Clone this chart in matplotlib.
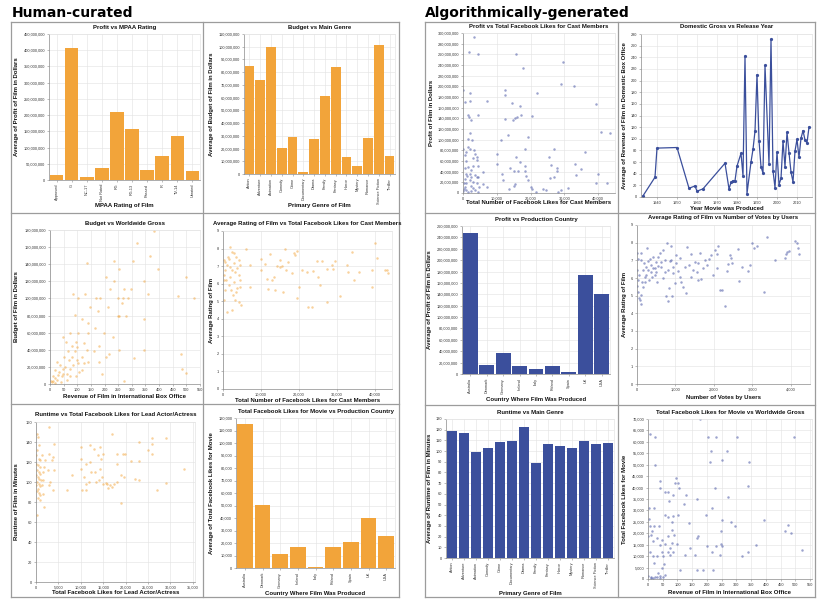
import matplotlib
matplotlib.use("Agg")
import matplotlib.pyplot as plt
from matplotlib.lines import Line2D
from matplotlib.ticker import FuncFormatter, MultipleLocator

W, H = 828, 612
ORANGE = "#f2a43a"
BLUE = "#3b4f9c"
DOT_BLUE = "#5a66ad"
GRID = "#e4e4e4"
DOMAIN = "#8a8a8a"
FRAME = "#9c9c9c"
TICK_FS = 2.8
LABEL_FS = 4.3

plt.rcParams.update({
    "font.family": ["Liberation Sans", "DejaVu Sans"],
    "axes.linewidth": 0.5,
    "xtick.major.size": 1.5,
    "ytick.major.size": 1.5,
    "xtick.major.width": 0.4,
    "ytick.major.width": 0.4,
    "xtick.major.pad": 1.2,
    "ytick.major.pad": 1.2,
    "xtick.color": DOMAIN,
    "ytick.color": DOMAIN,
    "xtick.labelcolor": "#333333",
    "ytick.labelcolor": "#333333",
    "xtick.labelsize": TICK_FS,
    "ytick.labelsize": TICK_FS,
})

# ---------------- human-curated data ----------------
mpaa_cats = ["Approved", "G", "NC-17", "Not Rated", "PG", "PG-13", "Passed", "R", "TV-14", "Unrated"]
mpaa_profit = [16e6, 407e6, 10e6, 37e6, 209e6, 157e6, 30e6, 75e6, 135e6, 29e6]

genres = ["Action", "Adventure", "Animation", "Comedy", "Crime", "Documentary", "Drama", "Family",
          "Fantasy", "Horror", "Mystery", "Romance", "Science Fiction", "Thriller"]
genre_budget = [84.6e6, 74e6, 99.5e6, 20.4e6, 28.8e6, 1.8e6, 27.5e6, 61e6, 83.8e6, 13.6e6, 6e6,
                28.5e6, 101e6, 13.9e6]

# budget (M$) vs international revenue
bw_gross = [383, 319, 368, 135, 233, 305, 252, 397, 206, 497, 233, 344, 219, 273, 297, 86, 129, 360,
            470, 101, 169, 184, 249, 268, 286, 528, 264, 147, 212, 176, 92, 248, 254, 279, 117, 344,
            139, 166, 199, 74, 104, 49, 138, 231, 96, 59, 80, 123, 178, 252, 344, 479, 215, 178, 307,
            485, 497, 102, 139, 270, 206, 52, 27, 37, 18, 10, 2, 12, 25, 43, 61, 74, 86, 98, 117, 31,
            55, 68, 80, 92, 108, 49, 6, 18, 34, 47, 61, 96, 74, 39, 117, 18, 123, 160, 135, 65, 190, 98]
bw_budget = [179, 165, 150, 141, 144, 144, 135, 135, 125, 125, 120, 120, 111, 111, 111, 105, 105, 105,
             103, 100, 100, 100, 100, 100, 100, 100, 95, 90, 90, 85, 81, 80, 80, 79, 76, 76,
             71, 65, 60, 60, 60, 55, 60, 55, 49, 49, 44, 48, 44, 40, 40, 35, 35, 26, 30,
             18, 13, 24, 26, 3, 32, 32, 26, 22, 16, 9, 3, 3, 5, 9, 12, 18, 22, 28, 32, 11,
             20, 28, 32, 38, 14, 12, 2, 7, 14, 18, 5, 9, 9, 2, 16, 1, 24, 38, 40, 38, 12, 43]

# rating vs cast facebook likes
rc_likes = [175, 610, 1050, 1490, 1930, 2360, 2800, 3240, 3680, 4110, 4550, 350, 875, 1490, 2100, 2630,
            3240, 3680, 4380, 1750, 2360, 2800, 1050, 2360, 4110, 4730, 175, 610, 175, 1930, 2800, 3500,
            4110, 610, 1230, 3500, 4550, 6130, 7180, 7180, 9980, 10070, 11120, 11550, 11820, 12260,
            12870, 13300, 13740, 14180, 14880, 15050, 15490, 15930, 16370, 16630, 17240, 18120, 18730,
            19000, 19430, 19610, 20130, 20740, 22060, 22500, 23370, 23810, 24690, 25130, 25560, 26000,
            27310, 27480, 28620, 29060, 29500, 30810, 32560, 32820, 33870, 34570, 35880, 39120, 39300,
            40000, 40440, 42630, 43240, 43500]
rc_rating = [7.35, 7.25, 7.06, 7.39, 6.97, 6.78, 7.16, 6.69, 6.88, 7.35, 7.06, 6.5, 6.21, 5.93, 5.64, 5.36,
             5.08, 5.74, 6.21, 8.1, 7.82, 7.73, 4.41, 4.5, 4.98, 4.79, 6.21, 5.64, 5.08, 6.4, 6.12, 5.55,
             6.5, 6.78, 7.54, 7.54, 5.83, 7.95, 7.06, 5.83, 7.39, 6.78, 7.12, 6.25, 5.68, 7.69,
             6.21, 6.36, 5.64, 7.0, 7.35, 6.97, 7.0, 5.55, 7.95, 6.78, 7.25, 6.59, 7.73,
             7.63, 7.88, 5.17, 5.8, 6.78, 6.69, 4.66, 4.66, 6.74, 7.29, 6.4, 5.93, 7.31,
             4.98, 6.82, 7.06, 6.82, 7.31, 5.27, 7.06, 6.69, 7.82, 6.21, 6.69, 5.83, 6.78,
             8.33, 7.44, 6.78, 6.78, 6.63]

# runtime vs lead actor facebook likes
rl_likes = [220, 370, 590, 220, 70, 590, 955, 70, 440, 810, 220, 590, 955, 70, 370, 735, 1100, 220, 590,
            70, 810, 440, 220, 660, 955, 370, 810, 220, 1840, 1540, 1540, 1690, 2060, 2940, 2940, 2790,
            3160, 3010, 3530, 3900, 4040, 4040, 3900, 6840, 7940, 10140, 10140, 10140, 10360, 10650,
            11100, 11250, 11100, 11980, 12130, 12350, 11840, 12940, 13080, 13450, 13820, 14040, 14190,
            14190, 14560, 14780, 15070, 15070, 15660, 15800, 16020, 16540, 16980, 16980, 17490, 18000,
            18000, 18000, 18960, 18960, 19330, 19700, 19920, 21170, 22120, 23000, 23000, 23000, 25060,
            25950, 25950, 25950, 27050, 29030, 29110, 33080, 1470, 1320, 1320]
rl_runtime = [148, 145, 137, 132, 127, 123, 122, 118, 117, 115, 112, 110, 108, 107, 105, 103, 102, 100, 98,
              97, 96, 93, 91, 89, 87, 84, 82, 67, 75, 88, 102, 115, 122, 155, 128, 112,
              100, 97, 122, 125, 138, 112, 92, 92, 107, 135, 123, 113, 92, 105,
              118, 98, 92, 137, 120, 110, 100, 133, 110, 100, 127, 102, 135,
              113, 123, 105, 128, 98, 99, 98, 94, 97, 148, 95, 98, 128,
              118, 100, 79, 107, 128, 105, 128, 121, 103, 121, 140, 102, 132,
              144, 138, 128, 92, 144, 99, 113, 110, 97, 127]

countries = ["Australia", "Denmark", "Germany", "Ireland", "Italy", "Poland", "Spain", "UK", "USA"]
country_movie_likes = [115200, 50100, 11200, 17000, 1100, 17000, 21000, 40300, 25300]

# ---------------- algorithmically-generated data ----------------
pc_likes = [3300, 1700, 4300, 15800, 29700, 17800, 29000, 32800, 0, 2200, 12300, 22000, 12400, 500, 2200,
            7200, 14500, 17000, 39500, 1500, 4500, 1800, 16000, 17300, 20300, 12400, 14800, 15500, 2300,
            13300, 41000, 43500, 2000, 19200, 1500, 2600, 11300, 0, 1500, 2100, 18500, 27000, 10000, 500,
            3500, 4000, 15800, 25500, 36000, 16800, 1000, 4000, 10100, 26200, 33200, 3000, 4500, 13800,
            18500, 27800, 27800, 35000, 5800, 15000, 16300, 18500, 800, 2000, 3500, 11500, 18700, 40000,
            25800, 26800, 33500, 500, 2000, 4500, 19300, 11800, 39500, 42700, 1000, 3000, 6000, 15500,
            20000, 7000, 13500, 15000, 20500, 23800, 24500, 31000, 28000, 29000, 300, 1000, 1500, 2500,
            3500, 4500, 21500, 0, 500, 3000, 4800, 1500, 2300, 700, 3000, 1000, 3300, 4200, 1300, 2500,
            200, 4000, 2300]
pc_profit = [292, 264, 260, 260, 245, 234, 205, 201, 193, 188, 193, 188, 183, 170, 173,
             173, 168, 164, 167, 146, 147, 142, 143, 146, 145, 139, 137, 140, 136,
             108, 114, 112, 113, 105, 102, 99, 99, 82, 87, 83, 83, 82, 74, 71,
             74, 68, 68, 68, 77, 59, 60, 62, 55, 52, 55, 51, 51, 46,
             51, 47, 42, 45, 40, 41, 41, 41, 36, 36, 33, 35, 32, 35,
             28, 30, 33, 27, 24, 30, 25, 24, 19, 19, 19, 21, 16, 16,
             11, 11, 8, 13, 8, 7, 5, 10, 2, 5, 8, 5, 2, 4,
             5, 2, 2, 4, 11, 9, 11, 49, 43, 46, 65, 77, 80, 30, 31, 30,
             18, 18, 14]

years = [1933, 1939, 1940, 1950, 1956, 1959, 1960, 1963, 1974, 1976, 1977, 1978, 1979, 1980, 1982, 1983,
         1984, 1985, 1987, 1988, 1989, 1990, 1991, 1992, 1993, 1994, 1996, 1997, 1998, 1999, 2000, 2001,
         2002, 2003, 2004, 2005, 2006, 2007, 2008, 2009, 2010, 2011, 2012, 2013, 2014, 2015, 2016]
domestic_gross = [2, 34, 84, 85, 15, 19, 10, 14, 58, 14, 25, 28, 28, 53, 75, 36,
                  242, 6, 60, 82, 113, 210, 97, 52, 41, 226, 56, 271, 45, 16, 77, 21,
                  32, 96, 52, 111, 76, 43, 26, 79, 99, 68, 101, 114, 98, 93, 120]

country_profit = [247e6, 15e6, 37.5e6, 14e6, 9.4e6, 13.5e6, 3.5e6, 174.5e6, 141e6]

rv_votes = [0, 26, 9, 43, 26, 9, 26, 43, 70, 113, 96, 157, 130, 200, 243, 261, 287, 183, 96, 113, 330,
            374, 417, 461, 504, 461, 530, 548, 591, 635, 678, 722, 765, 783, 809, 835, 852, 878, 896,
            913, 939, 983, 1009, 1070, 1113, 1157, 1200, 1243, 1270, 1313, 1348, 1400, 1461, 1504, 1548,
            1591, 1635, 1661, 1704, 1765, 1809, 1878, 1922, 1983, 2026, 2070, 2096, 2070, 2157, 2200,
            2287, 2330, 2374, 2417, 2443, 2478, 2635, 2652, 2722, 2896, 2939, 2983, 3052, 3113, 3313,
            3374, 3591, 3852, 3878, 3913, 3957, 4113, 4157, 4200, 4217, 287, 357, 417, 157, 243, 304,
            200, 391, 504, 635, 739, 809, 939, 548, 678, 1026, 1113, 1417, 1591]
rv_rating = [7.43, 7.1, 6.45, 6.17, 5.9, 5.55, 5.23, 4.85, 4.75, 4.53, 5.04, 5.47, 5.8, 6.08, 6.64, 7.72,
             6.96, 6.83, 7.02, 7.4, 7.06, 6.74, 7.2, 6.55, 6.36, 6.17, 5.8, 6.68, 7.4, 6.92, 5.98, 6.36,
             4.98, 8.0, 4.72, 5.42, 6.96, 7.02, 7.81, 4.98, 6.64, 5.7, 7.3, 6.42, 7.11, 5.8, 5.47, 6.64,
             5.17, 7.74, 6.74, 7.36, 6.45, 6.92, 6.36, 6.83, 7.4, 5.92, 6.55, 7.02, 6.74, 7.06, 7.3,
             6.17, 7.58, 7.36, 7.81, 6.55, 5.32, 5.32, 4.42, 6.42, 6.79, 7.3, 7.11, 6.83, 7.62, 5.85,
             6.64, 6.42, 6.74, 8.0, 7.72, 7.81, 5.23, 8.34, 7.02, 7.11, 7.36, 7.49, 7.55, 8.11, 7.96,
             7.68, 7.34, 6.45, 6.36, 6.55, 6.45, 6.17, 5.9, 5.8, 6.04, 6.92, 6.64, 7.02, 6.45, 6.26,
             7.2, 7.58, 6.83, 6.08, 6.08, 5.9]

genre_runtime = [118.4, 116.9, 98.75, 102.5, 108.4, 109, 122.8, 88.75, 106.6, 104.4, 102.8, 109,
                 106.25, 107.5]

mg_gross = [8, 25, 175, 205, 230, 302, 494, 23, 213, 267, 209, 251, 342, 40, 95, 91, 103, 40, 106, 226,
            340, 59, 68, 86, 129, 271, 166, 70, 122, 3, 21, 217, 57, 86, 103, 196, 68, 394, 2, 251, 283,
            6, 21, 37, 295, 82, 139, 476, 466, 485, 15, 80, 89, 248, 9, 0, 29, 46, 68, 166, 171, 17, 57,
            82, 97, 40, 365, 249, 200, 231, 251, 6, 17, 29, 51, 68, 74, 126, 143, 160, 217, 245, 317,
            339, 523, 46, 76, 86, 21, 55, 108, 166, 188, 219, 9, 17, 29, 40, 11, 23, 0, 34, 46, 40, 51,
            57]
mg_likes = [63300, 62100, 70000, 62100, 62100, 62100, 62100, 50000, 55800, 55800, 51200, 52200, 51200,
            43000, 44000, 42000, 42000, 39800, 39800, 39800, 40800, 37900, 37900, 36900, 36900, 35900,
            35000, 34000, 33000, 31100, 31100, 31100, 28100, 27700, 28100, 27900, 27100, 26000, 26300,
            26000, 24900, 23000, 23000, 23000, 23000, 24800, 24500, 23800, 21100, 20100, 20900, 21300,
            19400, 20900, 19400, 18700, 17900, 17200, 18700, 17900, 18700, 16500, 15500, 15700, 15500,
            15000, 15000, 15300, 14600, 14300, 14300, 11700, 10200, 10200, 10200, 11700, 10600, 10600,
            13600, 10600, 11700, 10600, 9900, 11700, 12800, 11700, 13600, 11700, 7000, 6700, 4100, 4100,
            4100, 3800, 900, 400, 700, 1200, 300, 900, 1200, 2600, 4800, 300, 700, 1900]


def comma(v, _pos):
    return f"{v:,.0f}"


def px_axes(fig, left, top, right, bottom):
    return fig.add_axes([left / W, 1 - bottom / H, (right - left) / W, (bottom - top) / H])


def ftext(fig, x, y, s, **kw):
    kw.setdefault("ha", "center")
    kw.setdefault("va", "center")
    fig.text(x / W, 1 - y / H, s, **kw)


def base_style(ax, xgrid=True):
    for side in ("top", "right"):
        ax.spines[side].set_color(GRID)
        ax.spines[side].set_linewidth(0.5)
    for side in ("left", "bottom"):
        ax.spines[side].set_color(DOMAIN)
        ax.spines[side].set_linewidth(0.5)
    ax.yaxis.grid(True, color=GRID, linewidth=0.45)
    ax.xaxis.grid(xgrid, color=GRID, linewidth=0.45)
    ax.set_axisbelow(True)


def decorate(fig, box, title, xlabel, ylabel, ylab_x, xlab_y, title_y):
    left, top, right, bottom = box
    cx = (left + right) / 2
    cy = (top + bottom) / 2
    ftext(fig, cx, title_y, title, fontsize=LABEL_FS, fontweight="bold", color="#111111")
    ftext(fig, cx, xlab_y, xlabel, fontsize=LABEL_FS, fontweight="bold", color="#111111")
    ftext(fig, ylab_x, cy, ylabel, fontsize=LABEL_FS, fontweight="bold", rotation=90, color="#111111")


def bar_panel(fig, box, cats, vals, color, ystep, ymax, fmt=True):
    ax = px_axes(fig, *box)
    base_style(ax, xgrid=False)
    ax.bar(range(len(cats)), vals, width=0.9, color=color, edgecolor="none")
    ax.set_xlim(-0.5, len(cats) - 0.5)
    ax.set_ylim(0, ymax)
    ax.yaxis.set_major_locator(MultipleLocator(ystep))
    if fmt:
        ax.yaxis.set_major_formatter(FuncFormatter(comma))
    ax.set_xticks(range(len(cats)))
    ax.set_xticklabels(cats, rotation=90)
    return ax


def scatter_panel(fig, box, xs, ys, color, xlim, xstep, ylim, ystep, xfmt=True, yfmt=True, alpha=0.5):
    ax = px_axes(fig, *box)
    base_style(ax)
    ax.scatter(xs, ys, s=3.2, color=color, alpha=alpha, linewidths=0)
    ax.set_xlim(*xlim)
    ax.set_ylim(*ylim)
    ax.xaxis.set_major_locator(MultipleLocator(xstep))
    ax.yaxis.set_major_locator(MultipleLocator(ystep))
    if xfmt:
        ax.xaxis.set_major_formatter(FuncFormatter(comma))
    if yfmt:
        ax.yaxis.set_major_formatter(FuncFormatter(comma))
    return ax


def frame(fig, x0, y0, x1, y1, vx, hys):
    segs = [((x0, y0), (x1, y0)), ((x0, y1), (x1, y1)), ((x0, y0), (x0, y1)), ((x1, y0), (x1, y1)),
            ((vx, y0), (vx, y1))]
    segs += [((x0, hy), (x1, hy)) for hy in hys]
    for (a, b), (c, d) in segs:
        fig.add_artist(Line2D([a / W, c / W], [1 - b / H, 1 - d / H], color=FRAME, linewidth=0.9,
                              transform=fig.transFigure))


def main():
    fig = plt.figure(figsize=(W / 100, H / 100), dpi=100)

    ftext(fig, 12, 13, "Human-curated", ha="left", fontsize=10, fontweight="bold", family="DejaVu Sans")
    ftext(fig, 425, 13, "Algorithmically-generated", ha="left", fontsize=10, fontweight="bold",
          family="DejaVu Sans")
    frame(fig, 11, 22, 399, 597, 203, [213, 404])
    frame(fig, 425, 22, 815, 597, 618, [213, 405])

    # ---- human-curated column ----
    box = (49, 34, 200, 180)
    bar_panel(fig, box, mpaa_cats, mpaa_profit, ORANGE, 50e6, 450e6)
    decorate(fig, box, "Profit vs MPAA Rating", "MPAA Rating of Film",
             "Average of Profit of Film in Dollars", 17, 206, 28)

    box = (244, 34, 395, 174)
    bar_panel(fig, box, genres, genre_budget, ORANGE, 10e6, 110e6)
    decorate(fig, box, "Budget vs Main Genre", "Primary Genre of Film",
             "Average of Budget of Film in Dollars", 212, 206, 28)

    box = (50, 230, 200, 384)
    scatter_panel(fig, box, bw_gross, [b * 1e6 for b in bw_budget], ORANGE, (0, 550), 50,
                  (0, 180e6), 20e6, xfmt=False)
    decorate(fig, box, "Budget vs Worldwide Gross", "Revenue of Film in International Box Office",
             "Budget of Film in Dollars", 17, 396, 223)

    box = (223, 231, 392, 389)
    scatter_panel(fig, box, rc_likes, rc_rating, ORANGE, (0, 44500), 10000, (0, 9), 1, yfmt=False)
    decorate(fig, box, "Average Rating of Film vs Total Facebook Likes for Cast Members",
             "Total Number of Facebook Likes for Cast Members", "Average Rating of Film", 211, 401, 223)

    box = (36, 422, 195, 582)
    scatter_panel(fig, box, rl_likes, rl_runtime, ORANGE, (0, 35500), 5000, (0, 160), 20, yfmt=False)
    decorate(fig, box, "Runtime vs Total Facebook Likes for Lead Actor/Actress",
             "Total Facebook Likes for Lead Actor/Actress", "Runtime of Film in Minutes", 17, 593, 414)

    box = (236, 418, 395, 568)
    bar_panel(fig, box, countries, country_movie_likes, ORANGE, 10000, 120000)
    decorate(fig, box, "Total Facebook Likes for Movie vs Production Country",
             "Country Where Film Was Produced", "Average of Total Facebook Likes for Movie", 212, 593, 412)

    # ---- algorithmically-generated column ----
    box = (463, 33, 615, 193)
    scatter_panel(fig, box, pc_likes, [p * 1e6 for p in pc_profit], DOT_BLUE, (0, 45000), 10000,
                  (0, 300e6), 20e6, alpha=0.6)
    decorate(fig, box, "Profit vs Total Facebook Likes for Cast Members",
             "Total Number of Facebook Likes for Cast Members", "Profit of Film in Dollars", 432, 203, 27)

    box = (641, 34, 812, 197)
    ax = px_axes(fig, *box)
    base_style(ax)
    ax.plot(years, domestic_gross, color=BLUE, linewidth=0.9, marker="o", markersize=1.3)
    ax.set_xlim(1932, 2017.5)
    ax.set_ylim(0, 280)
    ax.xaxis.set_major_locator(MultipleLocator(10))
    ax.yaxis.set_major_locator(MultipleLocator(20))
    decorate(fig, box, "Domestic Gross vs Release Year", "Year Movie was Produced",
             "Average of Revenue of Film in Domestic Box Office", 625, 208, 27)

    box = (462, 226, 610, 374)
    bar_panel(fig, box, countries, country_profit, BLUE, 20e6, 260e6)
    decorate(fig, box, "Profit vs Production Country", "Country Where Film Was Produced",
             "Average of Profit of Film in Dollars", 430, 399, 219)

    box = (637, 225, 810, 384)
    scatter_panel(fig, box, rv_votes, rv_rating, DOT_BLUE, (0, 4500), 1000, (0, 9), 1, yfmt=False,
                  alpha=0.6)
    decorate(fig, box, "Average Rating of Film vs Number of Votes by Users", "Number of Votes by Users",
             "Average Rating of Film", 625, 397, 217)

    box = (446, 419, 614, 558)
    bar_panel(fig, box, genres, genre_runtime, BLUE, 10, 130)
    decorate(fig, box, "Runtime vs Main Genre", "Primary Genre of Film",
             "Average of Runtime of Film in Minutes", 430, 593, 412)

    box = (648, 419, 812, 579)
    scatter_panel(fig, box, mg_gross, mg_likes, DOT_BLUE, (0, 556), 50, (0, 70000), 5000, xfmt=False,
                  alpha=0.6)
    decorate(fig, box, "Total Facebook Likes for Movie vs Worldwide Gross",
             "Revenue of Film in International Box Office", "Total Facebook Likes for Movie", 625, 592, 412)

    fig.savefig("out.png", dpi=100)
    plt.close(fig)


if __name__ == "__main__":
    main()
